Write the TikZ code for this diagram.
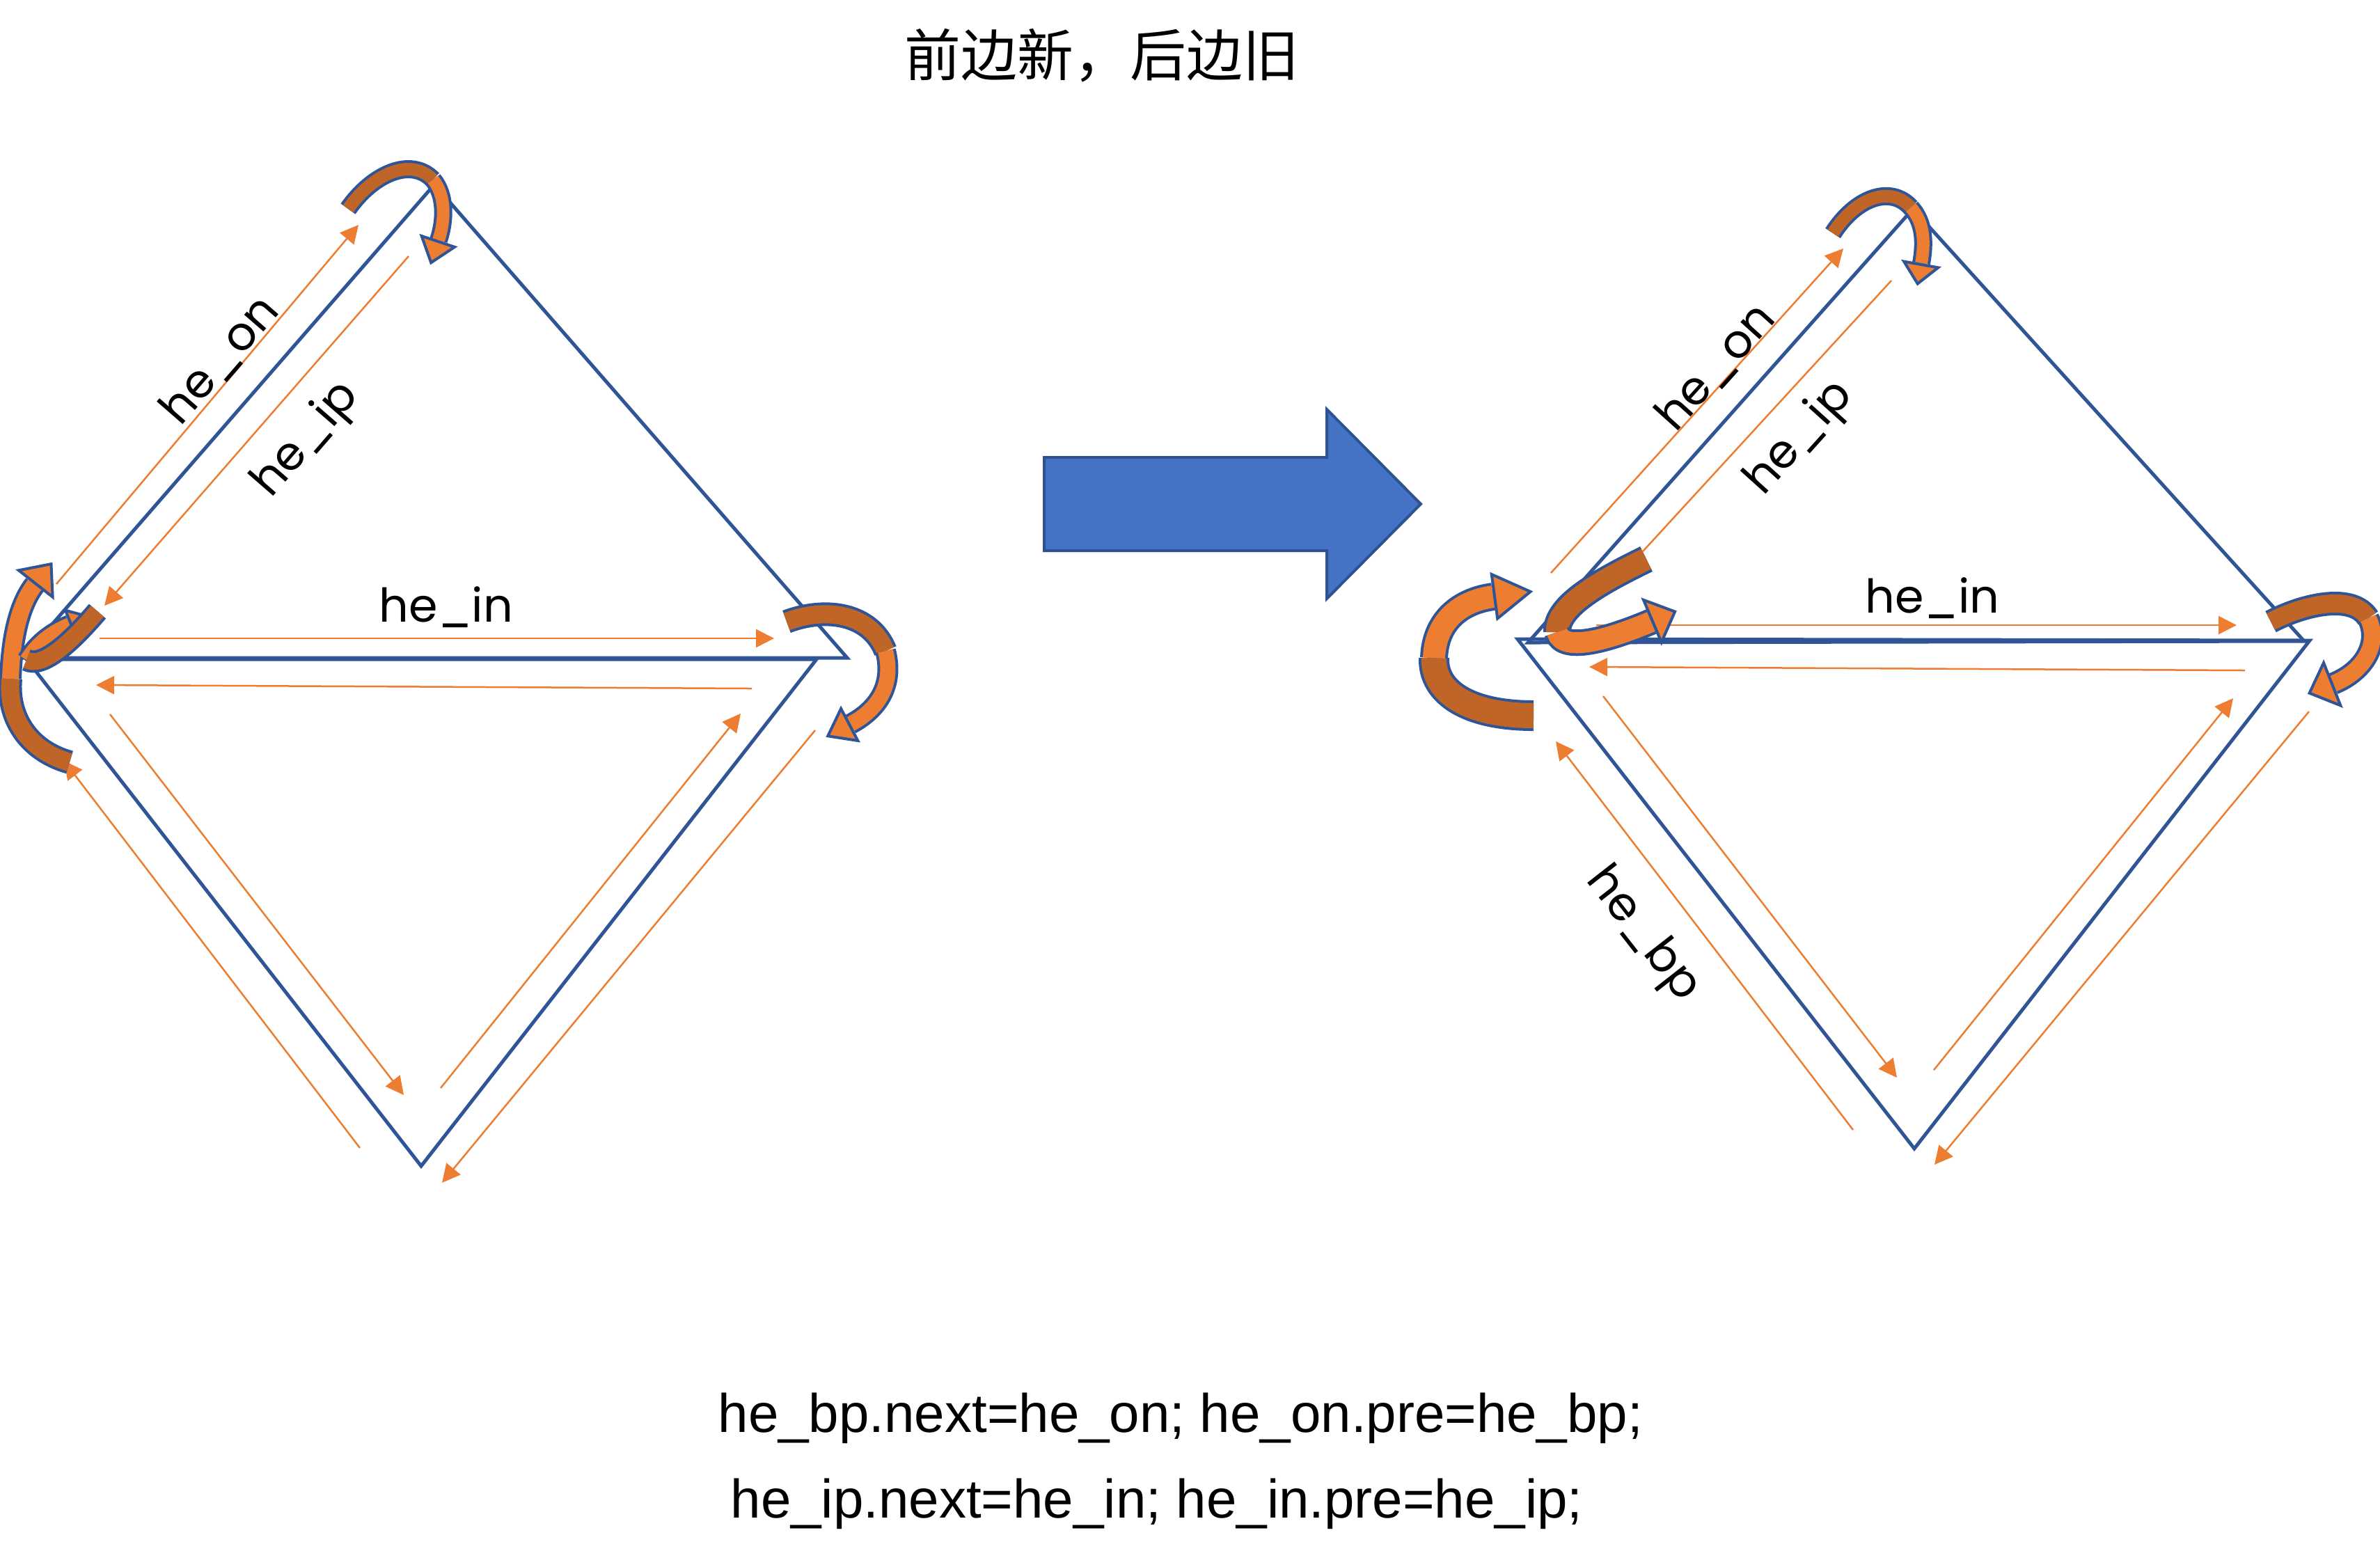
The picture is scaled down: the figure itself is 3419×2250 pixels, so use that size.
\documentclass[tikz,border=0pt]{standalone}
\usepackage{fontspec}
\setmainfont{Liberation Sans}
\newfontfamily\cjkfont{Noto Sans CJK SC}
\newfontfamily\lblfont{Poppins}
\usetikzlibrary{arrows.meta,shapes.geometric}
\definecolor{edgeblue}{RGB}{47,85,151}
\definecolor{heor}{RGB}{237,125,49}
\definecolor{dkor}{RGB}{191,101,39}
\definecolor{arrblue}{RGB}{68,114,196}
\definecolor{arrline}{RGB}{47,82,143}
\begin{document}
\begin{tikzpicture}[x=0.01cm,y=-0.01cm,
    tri/.style={draw=edgeblue,line width=0.05cm,line join=miter},
    hedge/.style={draw=heor,line width=0.025cm,-{Triangle[length=0.26cm,width=0.26cm]}},
    ribback/.style={draw=edgeblue,line width=0.04cm,double=dkor,double distance=#1},
    ribfront/.style={draw=edgeblue,line width=0.04cm,double=heor,double distance=#1},
    rhead/.style 2 args={isosceles triangle,isosceles triangle stretches,inner sep=0pt,
        minimum height=#1,minimum width=#2,fill=heor,draw=edgeblue,line width=0.04cm,
        sloped,allow upside down,anchor=west,pos=1},
    lbl/.style={font=\lblfont\fontsize{19pt}{22pt}\selectfont,inner sep=0pt}
]
\useasboundingbox (0,0) rectangle (3419,2250);

\node[font=\cjkfont\fontsize{23pt}{27pt}\selectfont] (title) at (1583,80) {前边新，后边旧};

% left: before
\coordinate (LA) at (33,945);
\coordinate (LT) at (624,265);
\coordinate (LR) at (1217,945);
\coordinate (LL) at (38,947);
\coordinate (LQ) at (1173,947);
\coordinate (LD) at (605,1675);
\draw[tri] (LA) -- (LT) -- (LR) -- cycle;
\draw[tri] (LL) -- (LQ) -- (LD) -- cycle;

\coordinate (l1-s) at (81,839);    \coordinate (l1-e) at (515,323);
\coordinate (l2-s) at (587,368);   \coordinate (l2-e) at (150,870);
\coordinate (l3-s) at (143,917);   \coordinate (l3-e) at (1112,917);
\coordinate (l4-s) at (1080,989);  \coordinate (l4-e) at (138,984);
\coordinate (l5-s) at (158,1026);  \coordinate (l5-e) at (580,1573);
\coordinate (l6-s) at (633,1563);  \coordinate (l6-e) at (1064,1025);
\coordinate (l7-s) at (1171,1049); \coordinate (l7-e) at (635,1699);
\coordinate (l8-s) at (517,1649);  \coordinate (l8-e) at (92,1093);
\draw[hedge] (l1-s) -- (l1-e);
\draw[hedge] (l2-s) -- (l2-e);
\draw[hedge] (l3-s) -- (l3-e);
\draw[hedge] (l4-s) -- (l4-e);
\draw[hedge] (l5-s) -- (l5-e);
\draw[hedge] (l6-s) -- (l6-e);
\draw[hedge] (l7-s) -- (l7-e);
\draw[hedge] (l8-s) -- (l8-e);

% turning arrows, left
\draw[ribback=0.18cm] (500,300) .. controls (535,250) and (590,225) .. (622,258);
\draw[ribfront=0.18cm] (622,258) .. controls (640,280) and (640,315) .. (630,345) node[rhead={0.32cm}{0.5cm}] {};
\draw[ribback=0.26cm] (1130,893) .. controls (1185,872) and (1250,880) .. (1272,935);
\draw[ribfront=0.22cm] (1272,935) .. controls (1285,985) and (1260,1020) .. (1222,1040) node[rhead={0.35cm}{0.52cm}] {};
\draw[ribback=0.26cm] (100,1095) .. controls (40,1078) and (10,1030) .. (15,975);
\draw[ribfront=0.24cm] (15,975) .. controls (17,915) and (28,868) .. (50,840) node[rhead={0.36cm}{0.62cm}] {};
\draw[ribfront=0.2cm] (38,948) .. controls (55,920) and (80,905) .. (100,897) node[rhead={0.28cm}{0.42cm}] {};
\draw[ribback=0.24cm] (140,878) .. controls (100,925) and (60,960) .. (38,948);

\node[lbl,rotate=49] (lon) at (316,517) {he\_on};
\node[lbl,rotate=49] (lip) at (441,632) {he\_ip};
\node[lbl,anchor=base] (lin) at (641,893) {he\_in};

% big arrow
\draw[fill=arrblue,draw=arrline,line width=0.04cm] (1500,657) -- (1906,657) -- (1906,588) -- (2041,724)
    -- (1906,860) -- (1906,791) -- (1500,791) -- cycle;

% right: after
\coordinate (RA) at (2195,923);
\coordinate (RT) at (2748,300);
\coordinate (RR) at (3310,921);
\coordinate (RL) at (2180,918);
\coordinate (RQ) at (3318,920);
\coordinate (RD) at (2750,1650);
\draw[tri] (RA) -- (RT) -- (RR) -- cycle;
\draw[tri] (RL) -- (RQ) -- (RD) -- cycle;

\coordinate (r1-s) at (2228,823);  \coordinate (r1-e) at (2648,357);
\coordinate (r2-s) at (2717,403);  \coordinate (r2-e) at (2360,792);
\coordinate (r3-s) at (2293,898);  \coordinate (r3-e) at (3213,898);
\coordinate (r4-s) at (3225,963);  \coordinate (r4-e) at (2283,958);
\coordinate (r5-s) at (2303,1000); \coordinate (r5-e) at (2725,1548);
\coordinate (r6-s) at (2778,1537); \coordinate (r6-e) at (3208,1003);
\coordinate (r7-s) at (3317,1022); \coordinate (r7-e) at (2779,1673);
\coordinate (r8-s) at (2662,1623); \coordinate (r8-e) at (2235,1065);
\draw[hedge] (r1-s) -- (r1-e);
\draw[draw=heor,line width=0.025cm] (r2-s) -- (r2-e);
\draw[hedge] (r3-s) -- (r3-e);
\draw[hedge] (r4-s) -- (r4-e);
\draw[hedge] (r5-s) -- (r5-e);
\draw[hedge] (r6-s) -- (r6-e);
\draw[hedge] (r7-s) -- (r7-e);
\draw[hedge] (r8-s) -- (r8-e);

% turning arrows, right
\draw[ribback=0.18cm] (2633,335) .. controls (2665,285) and (2715,265) .. (2745,298);
\draw[ribfront=0.18cm] (2745,298) .. controls (2765,320) and (2765,350) .. (2760,378) node[rhead={0.28cm}{0.5cm}] {};
\draw[ribback=0.26cm] (3262,893) .. controls (3310,868) and (3380,852) .. (3402,888);
\draw[ribfront=0.24cm] (3402,888) .. controls (3420,925) and (3395,965) .. (3352,982) node[rhead={0.35cm}{0.66cm}] {};
\draw[ribback=0.36cm] (2203,1028) .. controls (2110,1028) and (2058,995) .. (2060,945);
\draw[ribfront=0.32cm] (2060,945) .. controls (2062,890) and (2100,863) .. (2145,857) node[rhead={0.52cm}{0.64cm}] {};
\draw[ribback=0.32cm] (2365,803) .. controls (2300,835) and (2235,870) .. (2237,908);
\draw[ribfront=0.3cm] (2237,908) .. controls (2245,940) and (2320,915) .. (2372,893) node[rhead={0.35cm}{0.66cm}] {};

\node[lbl,rotate=48] (ron) at (2465,527) {he\_on};
\node[lbl,rotate=48] (rip) at (2586,630) {he\_ip};
\node[lbl,anchor=base] (rin) at (2776,880) {he\_in};
\node[lbl,rotate=-52] (rbp) at (2359,1343) {he\_bp};

\node[anchor=base west,inner sep=0pt,font=\fontsize{22.2pt}{27pt}\selectfont] (rel1) at (1031,2057) {he\_bp.next=he\_on; he\_on.pre=he\_bp;};
\node[anchor=base west,inner sep=0pt,font=\fontsize{22.2pt}{27pt}\selectfont] (rel2) at (1049,2180) {he\_ip.next=he\_in; he\_in.pre=he\_ip;};
\end{tikzpicture}
\end{document}
